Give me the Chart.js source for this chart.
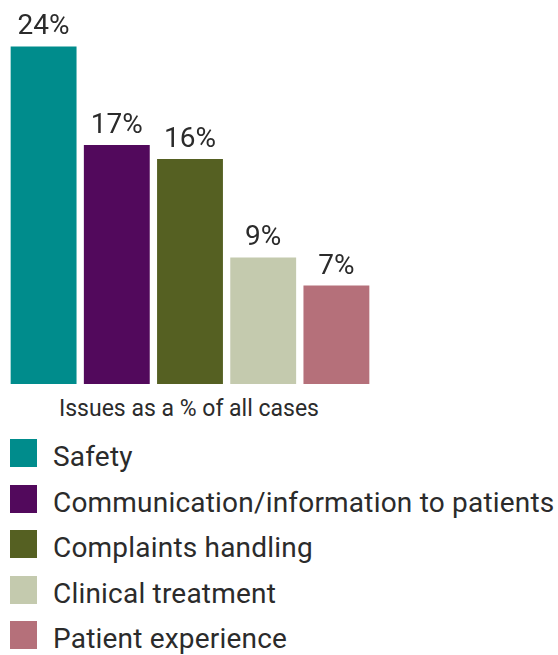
<!DOCTYPE html>
<html>
<head>
<meta charset="utf-8">
<script src="https://cdn.jsdelivr.net/npm/chart.js@4/dist/chart.umd.min.js"></script>
<style>
  html, body { margin: 0; padding: 0; background: #fff; }
  body { width: 558px; height: 655px; position: relative; overflow: hidden;
         font-family: Roboto, "Noto Sans", sans-serif; color: #2b2b2b; }
  #wrap { position: absolute; left: 7px; top: 0; width: 366px; height: 384px; }
  #caption { position: absolute; left: 0; width: 378px; top: 395px; text-align: center;
             font-size: 23px; line-height: 28px; }
  #legend { position: absolute; left: 10px; top: 439px; margin: 0; padding: 0; list-style: none; }
  #legend li { position: relative; height: 45.5px; }
  #legend .sw { position: absolute; left: 0; top: 0; width: 27px; height: 28px; }
  #legend .tx { position: absolute; left: 43px; top: 0px; font-size: 28px; line-height: 36px;
                letter-spacing: 0.2px; white-space: nowrap; }
</style>
</head>
<body>
<div id="wrap"><canvas id="chart"></canvas></div>
<div id="caption">Issues as a % of all cases</div>
<ul id="legend"></ul>
<script>
// Share of cases by issue type
const categories = ["Safety", "Communication/information to patients", "Complaints handling", "Clinical treatment", "Patient experience"];
const shares = [24, 17, 16, 9, 7];
const colours = ["#008c8c", "#52095c", "#556022", "#c4caae", "#b5707a"];

// Percentage labels above each bar
const barLabels = {
  id: "barLabels",
  afterDatasetsDraw(chart) {
    const ctx = chart.ctx;
    const meta = chart.getDatasetMeta(0);
    ctx.save();
    ctx.font = "28px Roboto, 'Noto Sans', sans-serif";
    ctx.fillStyle = "#2b2b2b";
    ctx.textAlign = "center";
    ctx.textBaseline = "alphabetic";
    meta.data.forEach((bar, i) => {
      ctx.fillText(shares[i] + "%", bar.x, bar.y - 12);
    });
    ctx.restore();
  }
};

new Chart(document.getElementById("chart"), {
  type: "bar",
  data: {
    labels: categories,
    datasets: [{
      data: shares,
      backgroundColor: colours,
      borderWidth: 0,
      categoryPercentage: 1,
      barPercentage: 0.9
    }]
  },
  options: {
    responsive: true,
    maintainAspectRatio: false,
    animation: false,
    layout: { padding: 0 },
    plugins: { legend: { display: false }, tooltip: { enabled: false } },
    scales: {
      x: { display: false },
      y: { display: false, min: 0, max: 27.3 }
    }
  },
  plugins: [barLabels]
});

// Legend list
const legend = document.getElementById("legend");
categories.forEach((name, i) => {
  const li = document.createElement("li");
  const sw = document.createElement("span");
  sw.className = "sw";
  sw.style.background = colours[i];
  const tx = document.createElement("span");
  tx.className = "tx";
  tx.textContent = name;
  li.appendChild(sw);
  li.appendChild(tx);
  legend.appendChild(li);
});
</script>
</body>
</html>
